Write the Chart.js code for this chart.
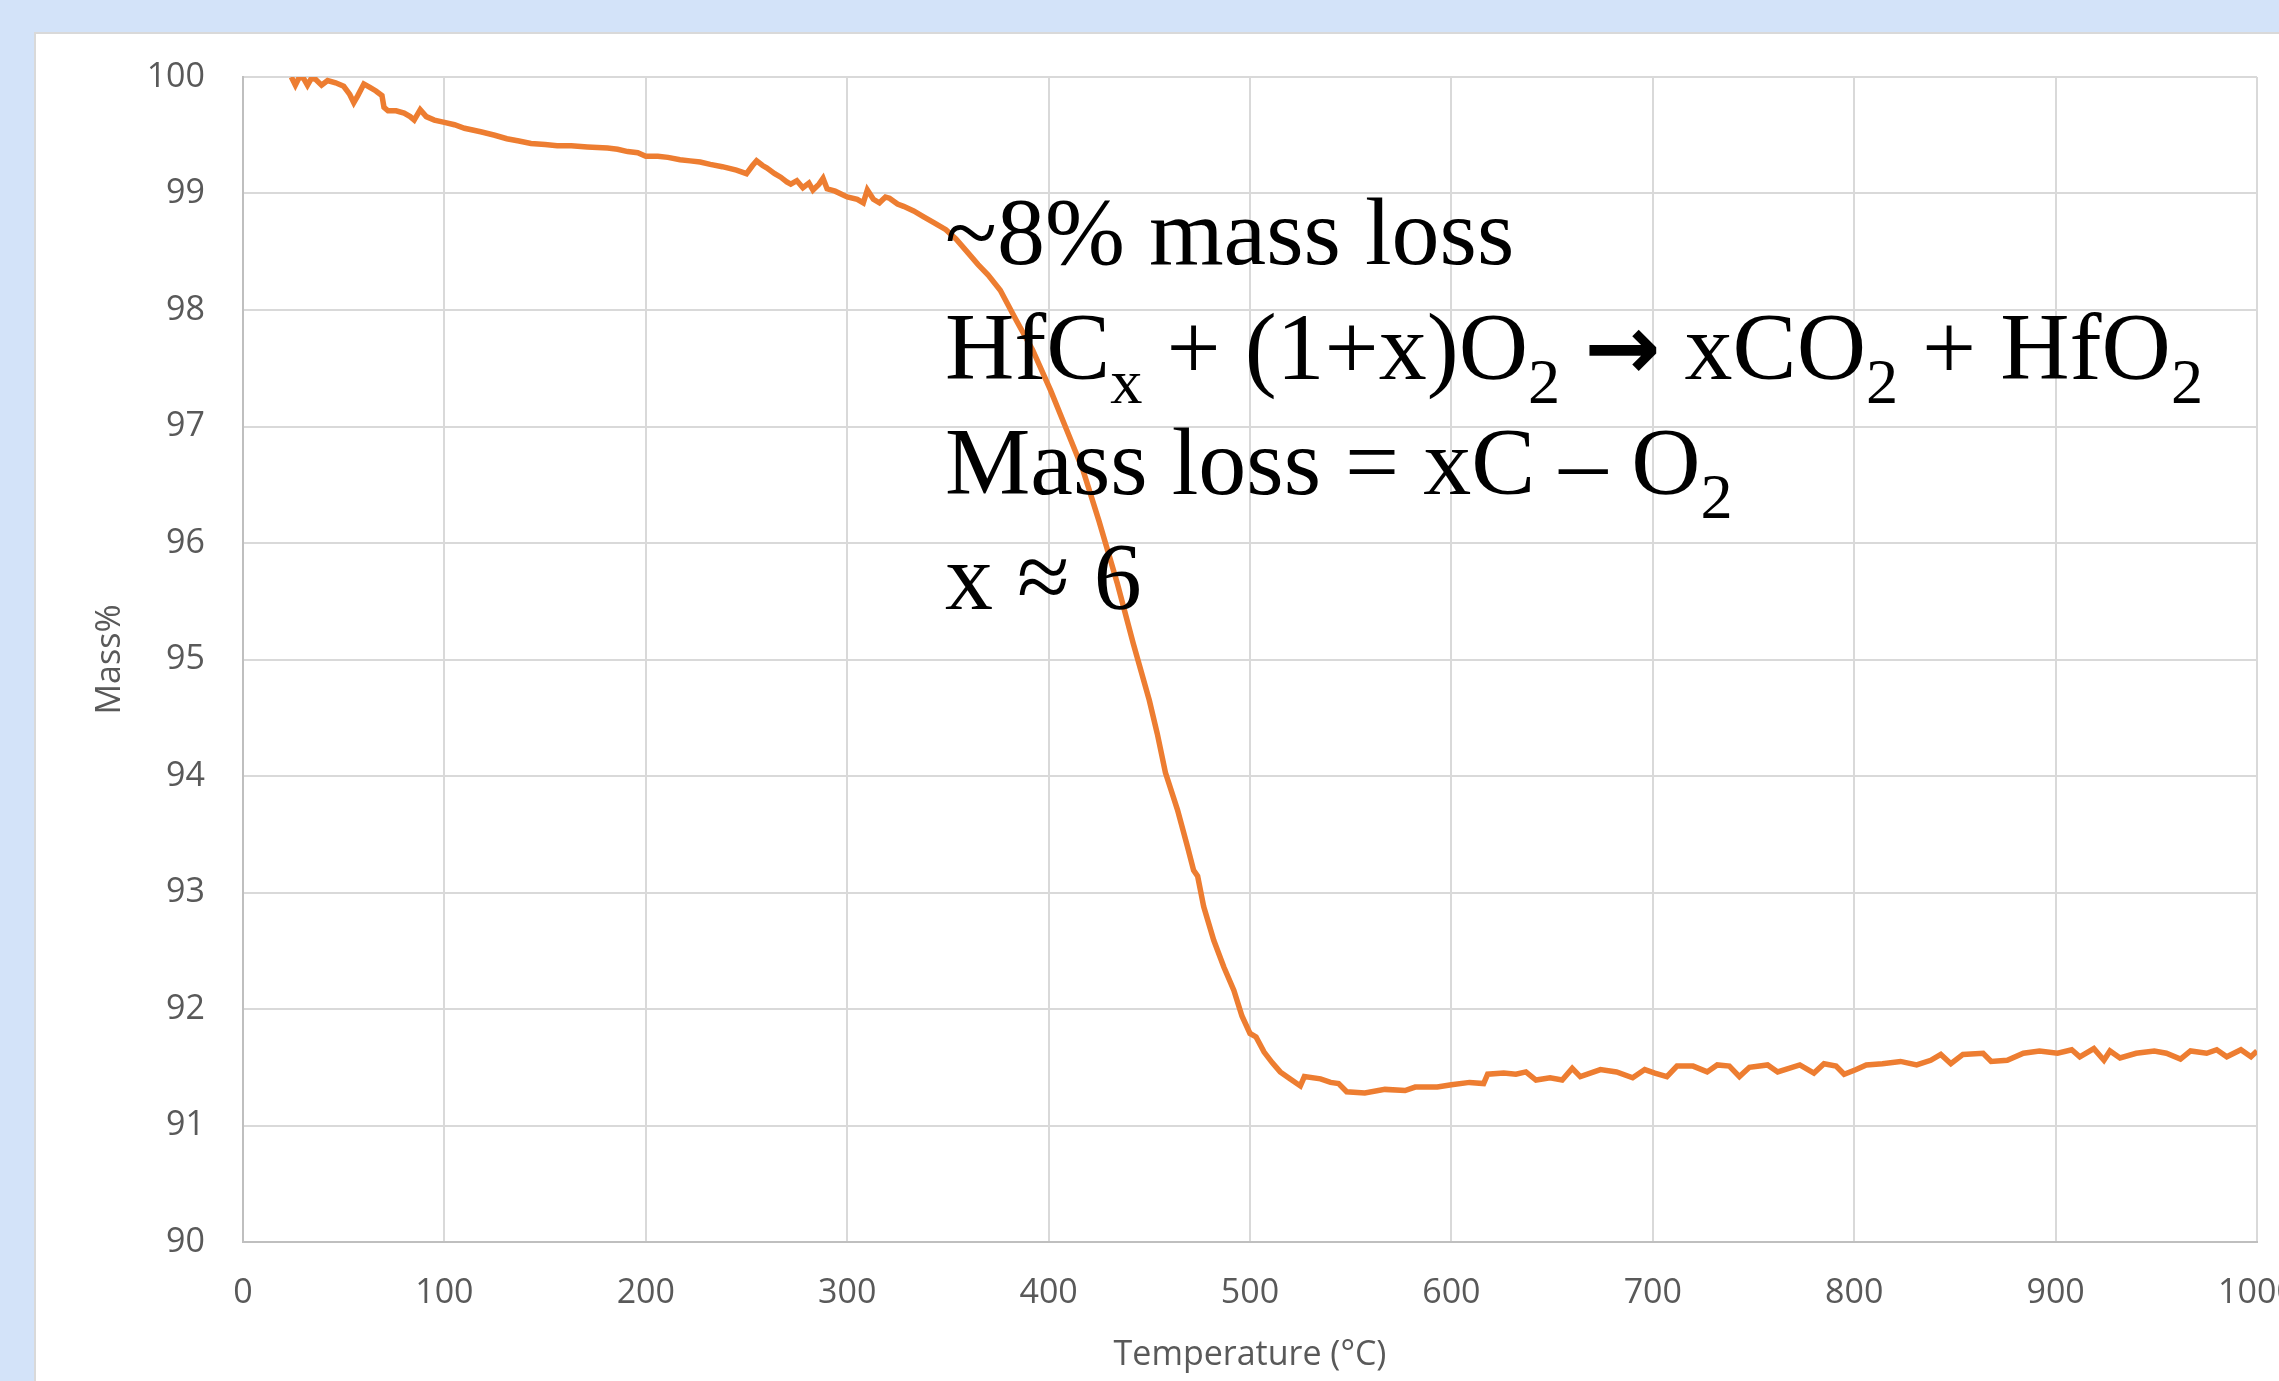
<!DOCTYPE html>
<html>
<head>
<meta charset="utf-8">
<script src="https://cdn.jsdelivr.net/npm/chart.js@4.4.1/dist/chart.umd.min.js"></script>
<style>
html, body { margin: 0; padding: 0; width: 2279px; height: 1381px; overflow: hidden; background: #d3e3f9; }
#panel { position: absolute; left: 34px; top: 32px; right: 0; bottom: 0; background: #fff;
         border-left: 2px solid #d9d9d9; border-top: 2px solid #d9d9d9; }
#c { position: absolute; left: 0; top: 0; }
#note { position: absolute; left: 945px; top: 174px; font-family: "Liberation Serif", "Times New Roman", serif;
        font-size: 96px; line-height: 115px; color: #000; white-space: nowrap; }
#note .s { position: relative; top: 24px; font-size: 67%; line-height: 0; }
#note .arr { font-family: "DejaVu Sans", sans-serif; font-weight: bold; font-size: 95%; line-height: 0; }
</style>
</head>
<body>
<div id="panel"></div>
<canvas id="c" width="2279" height="1381"></canvas>
<div id="note">
  <div>~8% mass loss</div>
  <div>HfC<span class="s">x</span> + (1+x)O<span class="s">2</span> <span class="arr">→</span> xCO<span class="s">2</span> + HfO<span class="s">2</span></div>
  <div>Mass loss = xC – O<span class="s">2</span></div>
  <div>x ≈ 6</div>
</div>
<script>
// Temperature (°C) readings and mass%
const temps = [
  24, 26, 28, 30, 32, 34, 36, 39, 42, 46, 50, 53, 55, 57, 60, 63, 66, 69, 70, 72,
  76, 80, 83, 85, 88, 91, 95, 100, 105, 110, 118, 125, 131, 137, 143, 150, 156, 163, 171, 181,
  186, 191, 196, 200, 206, 211, 217, 222, 227, 232, 238, 245, 250, 253, 255, 258, 260, 264, 267, 270,
  272, 275, 278, 281, 283, 286, 288, 290, 294, 300, 305, 308, 310, 313, 316, 319, 321, 325, 328, 333,
  338, 343, 349, 354, 360, 365, 370, 376, 384, 392, 401, 409, 417, 425, 434, 442, 450, 454, 458, 464,
  469, 472, 474, 477, 482, 487, 492, 496, 500, 503, 507, 511, 515, 520, 525, 527, 535, 540, 544, 548,
  557, 567, 577, 582, 593, 600, 609, 616, 618, 626, 632, 637, 642, 649, 655, 660, 664, 674, 682, 690,
  696, 701, 707, 712, 720, 727, 732, 738, 743, 748, 757, 762, 773, 780, 785, 791, 795, 801, 806, 814,
  823, 831, 838, 843, 848, 854, 864, 868, 876, 884, 892, 901, 908, 912, 919, 924, 927, 932, 940, 949,
  955, 962, 967, 975, 980, 985, 992, 997, 1000
];
const massPct = [
  100.00, 99.93, 100.00, 99.99, 99.93, 99.99, 99.98, 99.93, 99.97, 99.95, 99.92, 99.85, 99.78, 99.84, 99.94, 99.91, 99.88, 99.84, 99.74, 99.71,
  99.71, 99.69, 99.66, 99.63, 99.72, 99.66, 99.63, 99.61, 99.59, 99.56, 99.53, 99.50, 99.47, 99.45, 99.43, 99.42, 99.41, 99.41, 99.40, 99.39,
  99.38, 99.36, 99.35, 99.32, 99.32, 99.31, 99.29, 99.28, 99.27, 99.25, 99.23, 99.20, 99.17, 99.24, 99.28, 99.24, 99.22, 99.17, 99.14, 99.10,
  99.08, 99.11, 99.05, 99.09, 99.03, 99.08, 99.13, 99.04, 99.02, 98.97, 98.95, 98.92, 99.03, 98.95, 98.92, 98.97, 98.96, 98.91, 98.89, 98.85,
  98.80, 98.75, 98.69, 98.61, 98.49, 98.39, 98.30, 98.17, 97.91, 97.66, 97.31, 96.97, 96.63, 96.19, 95.66, 95.14, 94.65, 94.36, 94.03, 93.71,
  93.39, 93.19, 93.14, 92.88, 92.59, 92.36, 92.16, 91.94, 91.79, 91.76, 91.63, 91.54, 91.46, 91.40, 91.34, 91.42, 91.40, 91.37, 91.36, 91.29,
  91.28, 91.31, 91.30, 91.33, 91.33, 91.35, 91.37, 91.36, 91.44, 91.45, 91.44, 91.46, 91.39, 91.41, 91.39, 91.49, 91.42, 91.48, 91.46, 91.41,
  91.48, 91.45, 91.42, 91.51, 91.51, 91.46, 91.52, 91.51, 91.42, 91.50, 91.52, 91.46, 91.52, 91.45, 91.53, 91.51, 91.44, 91.48, 91.52, 91.53,
  91.55, 91.52, 91.56, 91.61, 91.53, 91.61, 91.62, 91.55, 91.56, 91.62, 91.64, 91.62, 91.65, 91.59, 91.66, 91.56, 91.64, 91.58, 91.62, 91.64,
  91.62, 91.57, 91.64, 91.62, 91.65, 91.59, 91.65, 91.59, 91.64
];
const xTicks = [0, 100, 200, 300, 400, 500, 600, 700, 800, 900, 1000];
const yTicks = [90, 91, 92, 93, 94, 95, 96, 97, 98, 99, 100];

const tickFont = { family: 'Open Sans', size: 34 };
const gray = '#595959';

function initChart() {
  new Chart(document.getElementById('c'), {
    type: 'line',
    data: {
      datasets: [{
        data: temps.map((t, i) => ({ x: t, y: massPct[i] })),
        borderColor: '#ed7d31',
        borderWidth: 5.5,
        pointRadius: 0,
        tension: 0,
        fill: false
      }]
    },
    options: {
      responsive: false,
      devicePixelRatio: 1,
      animation: false,
      layout: { padding: { top: 77, right: 22, bottom: 0, left: 0 } },
      plugins: { legend: { display: false }, tooltip: { enabled: false } },
      scales: {
        x: {
          type: 'linear',
          min: xTicks[0],
          max: xTicks[xTicks.length - 1],
          afterBuildTicks: s => { s.ticks = xTicks.map(v => ({ value: v })); },
          afterFit: s => { s.height = 139; s.paddingLeft = 0; s.paddingRight = 0; },
          grid: { color: '#d9d9d9', lineWidth: 2, drawTicks: false },
          border: { color: '#bfbfbf', width: 2 },
          ticks: { color: gray, font: tickFont, padding: 31, maxRotation: 0, autoSkip: false,
                   callback: v => String(v) },
          title: { display: true, text: 'Temperature (°C)', color: gray, font: tickFont, padding: { top: 0, bottom: 5 } }
        },
        y: {
          min: yTicks[0],
          max: yTicks[yTicks.length - 1],
          afterBuildTicks: s => { s.ticks = yTicks.map(v => ({ value: v })); },
          afterFit: s => { s.width = 243; s.paddingTop = 0; s.paddingBottom = 0; },
          grid: { color: '#d9d9d9', lineWidth: 2, drawTicks: false },
          border: { color: '#bfbfbf', width: 2 },
          ticks: { color: gray, font: tickFont, padding: 38, autoSkip: false, callback: v => String(v) },
          title: { display: true, text: 'Mass%', color: gray, font: tickFont, padding: { top: 90, bottom: 0 } }
        }
      }
    }
  });
}

document.fonts.load('34px "Open Sans"').then(initChart, initChart);
</script>
</body>
</html>
